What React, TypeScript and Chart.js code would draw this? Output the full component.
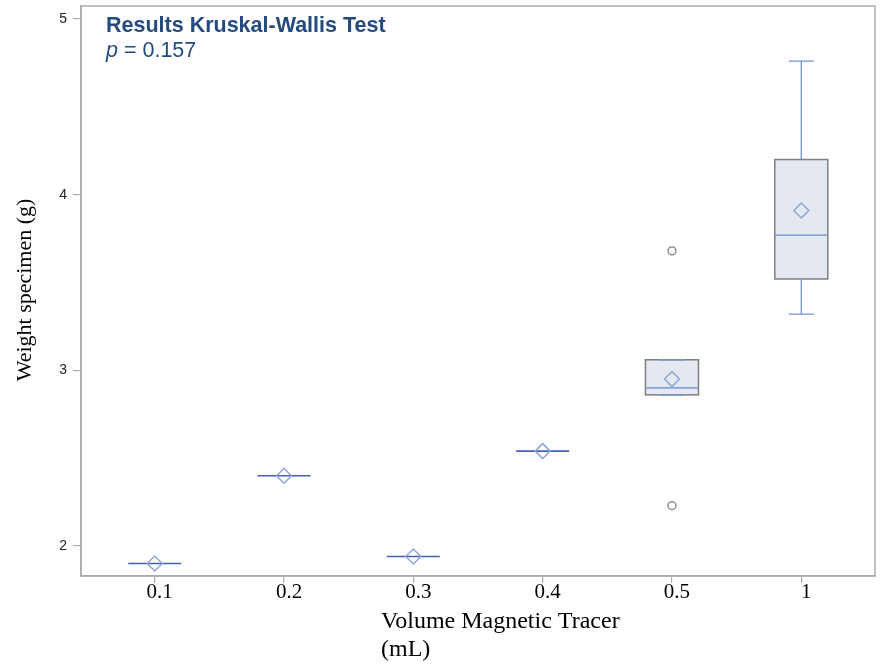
import React, { useEffect, useRef } from "react";
import { Chart, registerables } from "chart.js";

Chart.register(...registerables);

const categories = ["0.1", "0.2", "0.3", "0.4", "0.5", "1"];
const minVals = [1.9, 2.4, 1.94, 2.54, 2.86, 3.32];
const q1Vals = [1.9, 2.4, 1.94, 2.54, 2.86, 3.52];
const medianVals = [1.9, 2.4, 1.94, 2.54, 2.9, 3.77];
const q3Vals = [1.9, 2.4, 1.94, 2.54, 3.06, 4.2];
const maxVals = [1.9, 2.4, 1.94, 2.54, 3.06, 4.76];
const meanVals = [1.9, 2.4, 1.94, 2.54, 2.95, 3.91];
const outlierCat = [4, 4];
const outlierVals = [3.68, 2.23];
const yTicks = [2, 3, 4, 5];

const BOX_HALF = 0.205;
const CAP_HALF = 0.097;

const boxPlugin = {
  id: "boxPlugin",
  beforeDatasetsDraw(chart: any) {
    const { ctx, scales, chartArea } = chart;
    const x = scales.x;
    const y = scales.y;
    ctx.save();
    ctx.strokeStyle = "#a9adb3";
    ctx.lineWidth = 1.5;
    ctx.strokeRect(chartArea.left, chartArea.top, chartArea.right - chartArea.left, chartArea.bottom - chartArea.top);
    const half = x.getPixelForValue(BOX_HALF) - x.getPixelForValue(0);
    const capHalf = x.getPixelForValue(CAP_HALF) - x.getPixelForValue(0);
    categories.forEach((_, i) => {
      const cx = x.getPixelForValue(i);
      const yq1 = y.getPixelForValue(q1Vals[i]);
      const yq3 = y.getPixelForValue(q3Vals[i]);
      const ymed = y.getPixelForValue(medianVals[i]);
      const ymin = y.getPixelForValue(minVals[i]);
      const ymax = y.getPixelForValue(maxVals[i]);
      if (q3Vals[i] > q1Vals[i]) {
        ctx.fillStyle = "#e3e8f1";
        ctx.fillRect(cx - half, yq3, 2 * half, yq1 - yq3);
        ctx.strokeStyle = "#7f7f7f";
        ctx.lineWidth = 1.5;
        ctx.strokeRect(cx - half, yq3, 2 * half, yq1 - yq3);
        ctx.strokeStyle = "#7391d2";
        ctx.lineWidth = 1.3;
        ctx.beginPath();
        ctx.moveTo(cx, yq3);
        ctx.lineTo(cx, ymax);
        ctx.moveTo(cx, yq1);
        ctx.lineTo(cx, ymin);
        ctx.moveTo(cx - capHalf, ymax);
        ctx.lineTo(cx + capHalf, ymax);
        ctx.moveTo(cx - capHalf, ymin);
        ctx.lineTo(cx + capHalf, ymin);
        ctx.stroke();
        ctx.strokeStyle = "#6b89cc";
        ctx.beginPath();
        ctx.moveTo(cx - half, ymed);
        ctx.lineTo(cx + half, ymed);
        ctx.stroke();
      } else {
        ctx.strokeStyle = "#4262ad";
        ctx.lineWidth = 1.6;
        ctx.beginPath();
        ctx.moveTo(cx - half, ymed);
        ctx.lineTo(cx + half, ymed);
        ctx.stroke();
      }
    });
    ctx.restore();
  },
  afterDraw(chart: any) {
    const { ctx } = chart;
    ctx.save();
    ctx.textBaseline = "alphabetic";
    ctx.textAlign = "left";
    ctx.fillStyle = "#244a80";
    ctx.font = "bold 21.5px 'Liberation Sans', Arial, sans-serif";
    ctx.fillText("Results Kruskal-Wallis Test", 106, 32);
    ctx.font = "italic 21.5px 'Liberation Sans', Arial, sans-serif";
    ctx.fillText("p", 106, 57);
    const pw = ctx.measureText("p").width;
    ctx.font = "21.5px 'Liberation Sans', Arial, sans-serif";
    ctx.fillText(" = 0.157", 106 + pw, 57);

    ctx.fillStyle = "#000";
    ctx.font = "24px 'Liberation Serif', 'Times New Roman', serif";
    ctx.fillText("Volume Magnetic Tracer", 381, 628);
    ctx.fillText("(mL)", 381, 656);

    ctx.translate(31, 290);
    ctx.rotate(-Math.PI / 2);
    ctx.textAlign = "center";
    ctx.font = "22px 'Liberation Serif', 'Times New Roman', serif";
    ctx.fillText("Weight specimen (g)", 0, 0);
    ctx.restore();
  },
};

export default function App() {
  const ref = useRef<HTMLCanvasElement>(null);
  useEffect(() => {
    document.body.style.margin = "0";
    const canvas = ref.current!;
    const chart = new Chart(canvas, {
      type: "scatter",
      data: {
        datasets: [
          {
            label: "Mean",
            data: meanVals.map((v, i) => ({ x: i, y: v })),
            pointStyle: "rectRot",
            pointRadius: 7.5,
            pointBorderWidth: 1.5,
            pointBorderColor: "#8ea6dc",
            pointBackgroundColor: "rgba(0,0,0,0)",
          },
          {
            label: "Outliers",
            data: outlierVals.map((v, i) => ({ x: outlierCat[i], y: v })),
            pointStyle: "circle",
            pointRadius: 4,
            pointBorderWidth: 1.3,
            pointBorderColor: "#808080",
            pointBackgroundColor: "rgba(0,0,0,0)",
          },
        ],
      },
      options: {
        animation: false,
        responsive: false,
        layout: { autoPadding: false, padding: { top: 6, right: 5, left: 0, bottom: 0 } },
        plugins: { legend: { display: false }, tooltip: { enabled: false }, title: { display: false } },
        scales: {
          x: {
            type: "linear",
            min: -0.57,
            max: 5.57,
            afterBuildTicks: (s: any) => {
              s.ticks = categories.map((_, i) => ({ value: i }));
            },
            afterFit: (s: any) => {
              s.height = 92;
              s.paddingLeft = 0;
              s.paddingRight = 0;
              s.paddingTop = 0;
              s.paddingBottom = 0;
            },
            ticks: {
              callback: (v: any) => categories[v as number] ?? "",
              color: "#000",
              font: { family: "'Liberation Serif', 'Times New Roman', serif", size: 21 },
              padding: -3,
              labelOffset: 5,
              maxRotation: 0,
              autoSkip: false,
            },
            grid: { drawOnChartArea: false, drawTicks: true, tickLength: 7, color: "#a9adb3", lineWidth: 1.2 },
            border: { display: true, color: "#a9adb3", width: 1.5 },
          },
          y: {
            type: "linear",
            min: 1.829,
            max: 5.074,
            afterBuildTicks: (s: any) => {
              s.ticks = yTicks.map((v) => ({ value: v }));
            },
            afterFit: (s: any) => {
              s.width = 81;
              s.paddingLeft = 0;
              s.paddingRight = 0;
              s.paddingTop = 0;
              s.paddingBottom = 0;
            },
            ticks: {
              color: "#222",
              font: { family: "'Liberation Sans', Arial, sans-serif", size: 14 },
              padding: 6,
            },
            grid: { drawOnChartArea: false, drawTicks: true, tickLength: 8, color: "#a9adb3", lineWidth: 1.2 },
            border: { display: true, color: "#a9adb3", width: 1.5 },
          },
        },
      },
      plugins: [boxPlugin],
    });
    return () => chart.destroy();
  }, []);
  return <canvas ref={ref} width={880} height={668} style={{ display: "block", width: 880, height: 668 }} />;
}
